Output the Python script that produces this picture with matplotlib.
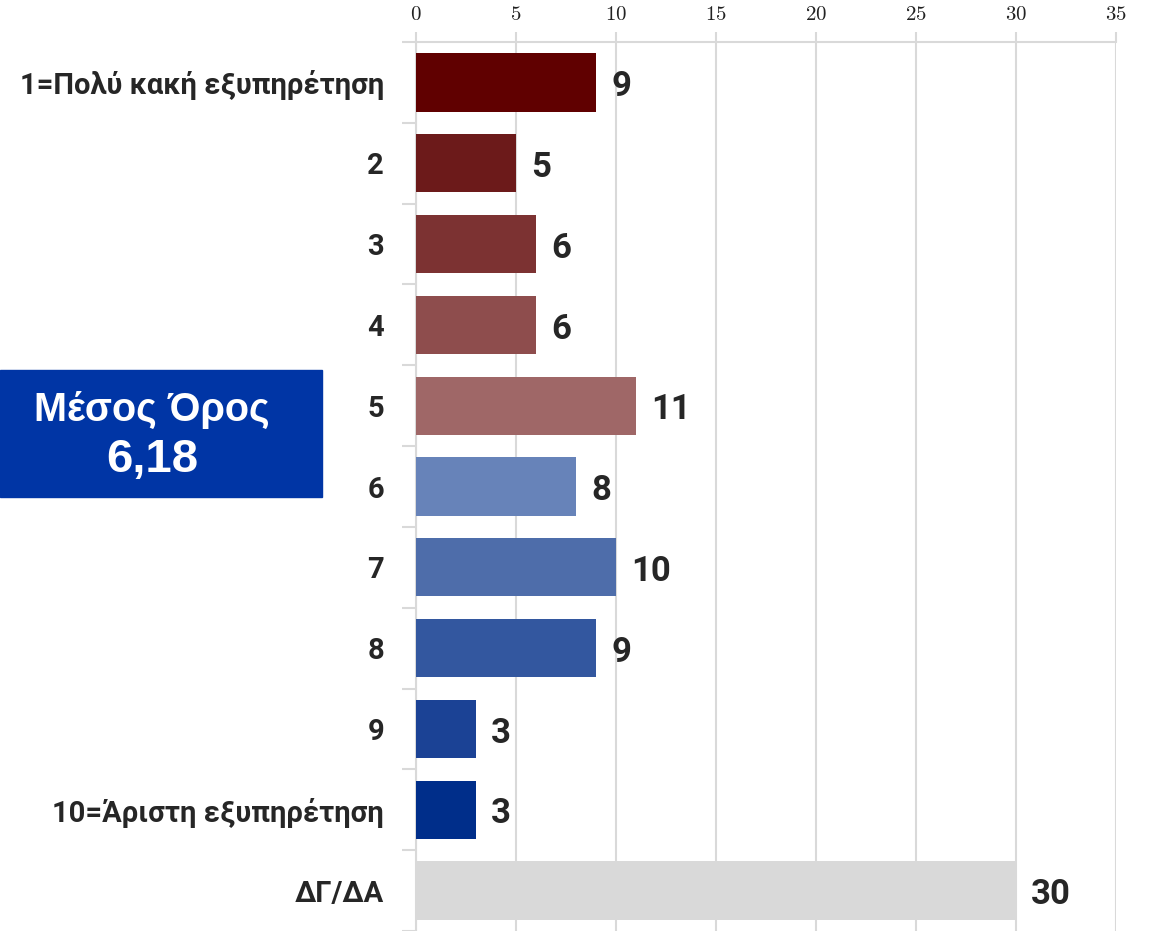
import matplotlib
matplotlib.use("Agg")
import matplotlib.pyplot as plt
import numpy as np
from matplotlib.ticker import FixedLocator

categories = ["1=Πολύ κακή εξυπηρέτηση", "2", "3", "4", "5", "6", "7", "8", "9",
              "10=Άριστη εξυπηρέτηση", "ΔΓ/ΔΑ"]
values = [9, 5, 6, 6, 11, 8, 10, 9, 3, 3, 30]
colors = ["#600000", "#6c1a1a", "#7c3232", "#8e4d4d", "#9f6767", "#6783b9",
          "#4e6daa", "#33579f", "#1b4295", "#002e8a", "#d9d9d9"]
xticks = [0, 5, 10, 15, 20, 25, 30, 35]
mean_label = "Μέσος Όρος"
mean_value = "6,18"

plt.rcParams['mathtext.fontset'] = 'cm'
label_family = ['Liberation Sans Narrow', 'Roboto', 'DejaVu Sans']

fig = plt.figure(figsize=(11.55, 9.31), dpi=100)
ax = fig.add_axes([416/1155, 0.0, 700/1155, (931-42)/931])

y = np.arange(len(categories))
ax.barh(y, values, height=0.72, color=colors, zorder=3)
ax.set_ylim(len(categories) - 0.5, -0.5)
ax.set_xlim(0, 35)

ax.xaxis.tick_top()
ax.set_xticks(xticks)
ax.set_xticklabels([f"${t}$" for t in xticks], fontsize=15, color="#222222")
ax.tick_params(axis='x', which='major', length=7, color="#d9d9d9", width=1.5, pad=6)
ax.grid(axis='x', color="#d9d9d9", linewidth=1.5, zorder=0)

ax.set_yticks(y)
ax.set_yticklabels(categories, fontsize=21, fontweight='bold', color="#262626",
                   family=label_family, va='center_baseline')
ax.tick_params(axis='y', which='major', length=0, pad=23)
ax.yaxis.set_minor_locator(FixedLocator(np.arange(-0.5, len(categories), 1.0)))
ax.tick_params(axis='y', which='minor', length=10, color="#d9d9d9", width=1.5)

for s in ['right', 'bottom']:
    ax.spines[s].set_visible(False)
for s in ['top', 'left']:
    ax.spines[s].set_color("#d9d9d9")
    ax.spines[s].set_linewidth(1.5)

for yi, v in zip(y, values):
    ax.annotate(str(v), (v, yi), xytext=(11, -3), textcoords='offset points',
                ha='left', va='center', fontsize=25, fontweight='bold',
                color="#262626", family=label_family)

# mean box
fig.patches.append(matplotlib.patches.Rectangle((0, 1 - 497/931), 322/1155, 127/931,
                                                transform=fig.transFigure,
                                                color="#0035a5", zorder=1))
fig.text(152/1155, 1 - 410/931, mean_label, ha='center', va='center', fontsize=28.5,
         fontweight='bold', color='white', family=['Liberation Sans', 'DejaVu Sans'],
         zorder=10)
fig.text(152/1155, 1 - 460/931, mean_value, ha='center', va='center', fontsize=34,
         fontweight='bold', color='white', family=['Liberation Sans', 'DejaVu Sans'],
         zorder=10)

fig.savefig("out.png", dpi=100)
